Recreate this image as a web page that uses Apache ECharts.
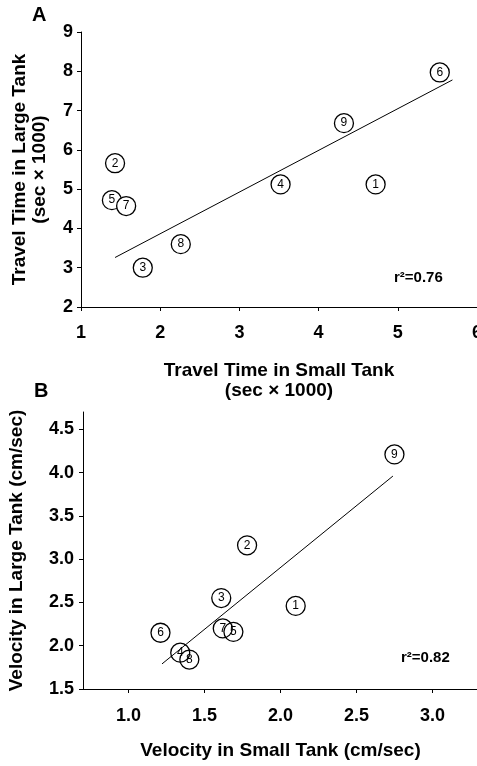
<!DOCTYPE html>
<html>
<head>
<meta charset="utf-8">
<script src="https://cdn.jsdelivr.net/npm/echarts@6/dist/echarts.min.js"></script>
<style>
  html, body { margin: 0; padding: 0; background: #fff; }
  #chart { width: 477px; height: 766px; }
</style>
</head>
<body>
<div id="chart"></div>
<script>
// panel A: travel time (sec x 1000)
const pointIds = [1, 2, 3, 4, 5, 6, 7, 8, 9];
const smallTankTime = [4.72, 1.43, 1.78, 3.52, 1.39, 5.53, 1.57, 2.26, 4.32];
const largeTankTime = [5.12, 5.66, 3.00, 5.12, 4.72, 7.97, 4.57, 3.60, 6.68];
const fitTimeX = [1.43, 5.69];
const fitTimeY = [3.26, 7.78];

// panel B: velocity (cm/sec)
const smallTankVel = [2.10, 1.78, 1.61, 1.34, 1.69, 1.21, 1.62, 1.40, 2.75];
const largeTankVel = [2.46, 3.16, 2.55, 1.92, 2.16, 2.15, 2.20, 1.84, 4.21];
const fitVelX = [1.22, 2.74];
const fitVelY = [1.79, 3.96];
const velTicks = [1.0, 1.5, 2.0, 2.5, 3.0];

const FONT = '"Liberation Sans", Arial, sans-serif';

const pts = (xs, ys) => xs.map((x, i) => [x, ys[i], pointIds[i]]);
const line = (xs, ys) => xs.map((x, i) => [x, ys[i]]);

const axisCommon = {
  axisLine: { show: true, lineStyle: { color: '#000', width: 1 } },
  axisTick: { show: true, inside: false, length: 4, lineStyle: { color: '#000' } },
  splitLine: { show: false },
  nameLocation: 'middle',
  nameTextStyle: { fontFamily: FONT, fontWeight: 'bold', fontSize: 19, color: '#000', lineHeight: 20 }
};
const labelStyle = { fontFamily: FONT, fontWeight: 'bold', fontSize: 18, color: '#000', showMaxLabel: true };

const scatter = (idx, data, fill) => ({
  type: 'scatter',
  xAxisIndex: idx, yAxisIndex: idx,
  data: data,
  symbol: 'circle',
  symbolSize: 19,
  itemStyle: { color: fill, borderColor: '#000', borderWidth: 1.3, opacity: 1 },
  label: {
    show: true, position: 'inside',
    formatter: p => p.value[2],
    fontFamily: FONT, fontSize: 12, color: '#000'
  },
  emphasis: { disabled: true },
  z: 3
});

const fit = (idx, data) => ({
  type: 'line',
  xAxisIndex: idx, yAxisIndex: idx,
  data: data,
  showSymbol: false,
  lineStyle: { color: '#000', width: 1 },
  z: 2
});

const chart = echarts.init(document.getElementById('chart'));
chart.setOption({
  animation: false,
  backgroundColor: '#fff',
  grid: [
    { left: 81, top: 32, width: 396, height: 275, containLabel: false, outerBoundsMode: 'none' },
    { left: 83, top: 412, width: 395, height: 277, containLabel: false, outerBoundsMode: 'none' }
  ],
  xAxis: [
    Object.assign({}, axisCommon, {
      gridIndex: 0, type: 'value', min: 1, max: 6, interval: 1,
      axisLabel: Object.assign({}, labelStyle, { margin: 17 }),
      name: 'Travel Time in Small Tank\n(sec × 1000)', nameGap: 54
    }),
    Object.assign({}, axisCommon, {
      gridIndex: 1, type: 'value', min: 0.7, max: 3.3,
      axisTick: Object.assign({}, axisCommon.axisTick, { customValues: velTicks }),
      axisLabel: Object.assign({}, labelStyle, { margin: 18, customValues: velTicks, formatter: v => v.toFixed(1) }),
      name: 'Velocity in Small Tank (cm/sec)', nameGap: 52
    })
  ],
  yAxis: [
    Object.assign({}, axisCommon, {
      gridIndex: 0, type: 'value', min: 2, max: 9, interval: 1,
      axisLabel: Object.assign({}, labelStyle, { margin: 8 }),
      name: 'Travel Time in Large Tank\n(sec × 1000)', nameGap: 31
    }),
    Object.assign({}, axisCommon, {
      gridIndex: 1, type: 'value', min: 1.5, max: 4.7, interval: 0.5,
      axisLabel: Object.assign({}, labelStyle, { margin: 9, showMaxLabel: false, formatter: v => v.toFixed(1) }),
      name: 'Velocity in Large Tank (cm/sec)', nameGap: 56
    })
  ],
  series: [
    fit(0, line(fitTimeX, fitTimeY)),
    scatter(0, pts(smallTankTime, largeTankTime), '#fff'),
    fit(1, line(fitVelX, fitVelY)),
    scatter(1, pts(smallTankVel, largeTankVel), 'rgba(255,255,255,0)')
  ],
  graphic: [
    { type: 'text', x: 32, y: 15, style: { text: 'A', font: 'bold 20px ' + FONT, verticalAlign: 'middle', fill: '#000' } },
    { type: 'text', x: 34, y: 391, style: { text: 'B', font: 'bold 20px ' + FONT, verticalAlign: 'middle', fill: '#000' } },
    { type: 'text', x: 394, y: 278, style: { text: 'r²=0.76', font: 'bold 15px ' + FONT, verticalAlign: 'middle', fill: '#000' } },
    { type: 'text', x: 401, y: 658, style: { text: 'r²=0.82', font: 'bold 15px ' + FONT, verticalAlign: 'middle', fill: '#000' } }
  ]
});
window.addEventListener('resize', () => chart.resize());
</script>
</body>
</html>
